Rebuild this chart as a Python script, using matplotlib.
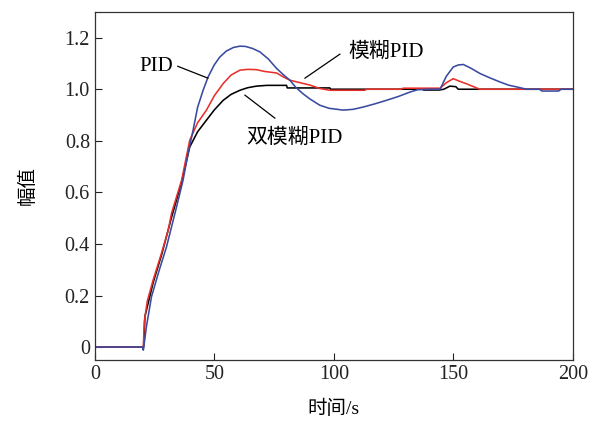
import matplotlib
matplotlib.use("Agg")
import matplotlib.pyplot as plt

plt.rcParams['font.family'] = ['Liberation Serif', 'Noto Sans CJK SC']
plt.rcParams['mathtext.fontset'] = 'stix'

# PID (blue)
pid_t = [0, 20, 20.3, 21.6, 23.7, 27, 30, 34.2, 36.9, 39, 41.1, 43, 45.3, 47.4, 50, 52.3, 55, 58,
         60.7, 63, 66, 69, 72.5, 76, 79, 81.6, 84, 87, 90, 94.1, 98, 103.9, 108, 112.3, 117, 122,
         127, 131.8, 135, 140, 144.4, 147, 149.9, 152, 154.1, 157, 161.1, 165, 169.5, 173, 176.4,
         180.6, 186, 187, 194, 195, 200]
pid_v = [0, 0, -0.012, 0.08, 0.195, 0.30, 0.389, 0.544, 0.647, 0.75, 0.841, 0.93, 0.996, 1.048,
         1.095, 1.125, 1.148, 1.162, 1.167, 1.166, 1.158, 1.145, 1.118, 1.081, 1.055, 1.035, 1.008,
         0.983, 0.962, 0.938, 0.926, 0.919, 0.922, 0.931, 0.943, 0.957, 0.972, 0.989, 0.998, 1.0,
         1.0, 1.05, 1.086, 1.094, 1.096, 1.083, 1.061, 1.045, 1.028, 1.016, 1.009, 1.0, 1.0, 0.993,
         0.993, 1.0, 1.0]

# 模糊PID (red)
fpid_t = [0, 20, 20.3, 20.7, 22, 24.4, 27.9, 30.7, 32.1, 36.3, 39.7, 43, 46.7, 50, 53.7, 57, 60.7,
          64, 67.6, 71, 76, 79, 81.6, 86, 90, 94.1, 98.3, 113, 113.5, 128, 129, 144.4, 147, 149.9,
          152.5, 155.5, 159.7, 161, 200]
fpid_v = [0, 0, 0.0, 0.1, 0.18, 0.26, 0.364, 0.453, 0.519, 0.647, 0.802, 0.87, 0.919, 0.975, 1.022,
          1.055, 1.074, 1.077, 1.076, 1.069, 1.063, 1.047, 1.035, 1.025, 1.016, 1.003, 0.996, 0.996,
          1.0, 1.0, 1.004, 1.004, 1.025, 1.041, 1.031, 1.021, 1.005, 1.0, 1.0]

# 双模糊PID (black)
dfpid_t = [0, 20, 20.4, 21, 24.4, 28, 32, 36.3, 39.7, 43, 46.7, 50, 53.7, 57, 60.7, 64, 67.6, 72,
           80.2, 80.5, 98.3, 98.6, 137, 137.5, 144, 146, 148.5, 151, 152, 200]
dfpid_v = [0, 0, 0.0, 0.12, 0.25, 0.36, 0.5, 0.64, 0.776, 0.835, 0.88, 0.92, 0.957, 0.98, 0.996,
           1.006, 1.012, 1.015, 1.015, 1.005, 1.005, 1.0, 1.0, 0.997, 0.997, 1.0, 1.012, 1.01, 1.0, 1.0]

xticks = [0, 50, 100, 150, 200]
yticks = [0, 0.2, 0.4, 0.6, 0.8, 1.0, 1.2]
yticklabels = ['0', '0.2', '0.4', '0.6', '0.8', '1.0', '1.2']

fig = plt.figure(figsize=(6.0, 4.24), dpi=100)
ax = fig.add_axes([0.158, 0.151, 0.797, 0.821])

ax.plot(dfpid_t, dfpid_v, color='black', lw=1.15)
ax.plot(fpid_t, fpid_v, color='#e8302a', lw=1.15)
ax.plot(pid_t, pid_v, color='#3a4aa0', lw=1.15)

ax.set_xlim(0, 200)
ax.set_ylim(-0.05, 1.3)
ax.set_xticks(xticks)
ax.set_yticks(yticks)
ax.set_yticklabels(yticklabels)
ax.tick_params(direction='in', length=5, width=0.8, labelsize=14.5, colors='#222222')
for s in ax.spines.values():
    s.set_linewidth(0.9)
    s.set_color('#333333')

ax.set_xlabel('时间/s', fontsize=14)
ax.set_ylabel('幅值', fontsize=14)
ax.xaxis.set_label_coords(0.5, -0.115)
ax.yaxis.set_label_coords(-0.121, 0.5)

ax.text(25.9, 1.089, 'PID', fontsize=15, ha='center', va='center')
ax.plot([34.7, 47.3], [1.089, 1.043], color='black', lw=0.9)
ax.text(121.8, 1.143, '模糊PID', fontsize=15, ha='center', va='center')
ax.plot([87.9, 102.5], [1.043, 1.136], color='black', lw=0.9)
ax.text(83.7, 0.81, '双模糊PID', fontsize=15, ha='center', va='center')
ax.plot([62.8, 75.3], [0.977, 0.888], color='black', lw=0.9)

fig.savefig('out.png', dpi=100)
